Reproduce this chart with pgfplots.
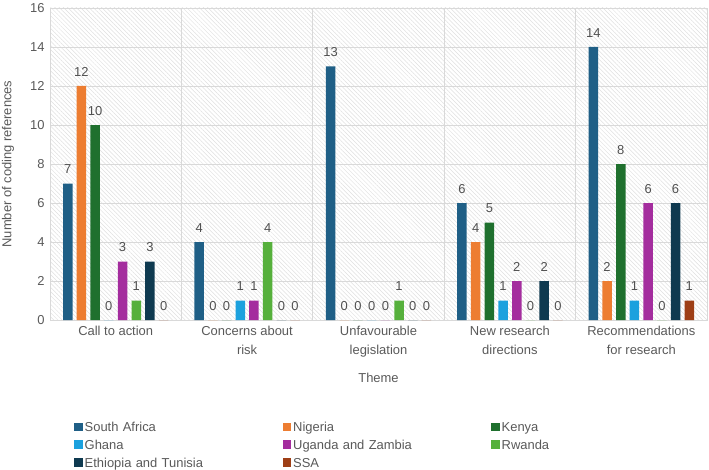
\documentclass[border=0pt]{standalone}
\usepackage{fontspec}
\setmainfont{Liberation Sans}
\usepackage{pgfplots}
\pgfplotsset{compat=1.18}
\usetikzlibrary{patterns.meta}
\definecolor{cSA}{RGB}{31,95,134}
\definecolor{cNG}{RGB}{237,125,49}
\definecolor{cKE}{RGB}{31,112,46}
\definecolor{cGH}{RGB}{28,161,222}
\definecolor{cUZ}{RGB}{164,45,158}
\definecolor{cRW}{RGB}{86,176,60}
\definecolor{cET}{RGB}{15,58,80}
\definecolor{cSS}{RGB}{158,63,22}
\definecolor{txt}{RGB}{89,89,89}
\definecolor{gridc}{RGB}{217,217,217}
\begin{document}
\begin{tikzpicture}
\useasboundingbox (-50bp,-150bp) rectangle (659bp,320bp);
\begin{axis}[
  at={(0,0)}, anchor=south west,
  scale only axis, width=657bp, height=312bp,
  ybar=4.2bp, bar width=9.5bp,
  xmin=-0.5, xmax=4.5, ymin=0, ymax=16,
  xtick={0,1,2,3,4},
  xticklabels={Call to action, Concerns about\\risk, Unfavourable\\legislation, New research\\directions, Recommendations\\for research},
  minor xtick={0.5,1.5,2.5,3.5},
  ytick={0,2,...,16},
  ymajorgrids, xminorgrids,
  grid style={gridc, line width=0.8bp},
  minor grid style={gridc, line width=0.8bp},
  axis line style={gridc, line width=0.8bp},
  major tick length=0pt, minor tick length=0pt,
  /pgf/number format/assume math mode=true,
  tick label style={font=\fontsize{13}{19}\selectfont, text=txt},
  xticklabel style={align=center, yshift=-3bp},
  yticklabel style={xshift=-2bp},
  axis background/.style={pattern={Lines[angle=-45, distance=3bp, line width=0.5bp]}, pattern color=gray!25},
  xlabel={Theme},
  every axis x label/.style={at={(axis description cs:0.5,0)}, yshift=-58bp, anchor=center, font=\fontsize{13}{15}\selectfont, text=txt},
  ylabel={Number of coding references},
  every axis y label/.style={at={(axis description cs:0,0.5)}, xshift=-42bp, rotate=90, anchor=center, font=\fontsize{13}{15}\selectfont, text=txt},
  nodes near coords,
  every node near coord/.append style={font=\fontsize{13}{15}\selectfont, text=txt!90!black, yshift=6bp},
  every axis plot/.append style={draw=none, legend image code/.code={\fill[##1] (0bp,-3.5bp) rectangle (8.5bp,5bp);}},
  legend style={at={(0,0)}, anchor=north west, xshift=24bp, yshift=-100bp, draw=none, fill=none,
    legend columns=3, font=\fontsize{13}{15}\selectfont, text=txt, inner sep=0pt, row sep=3bp,
    cells={anchor=west},
    /tikz/every even column/.append style={text width=196bp}},
]
\addplot[fill=cSA] coordinates {(0,7) (1,4) (2,13) (3,6) (4,14)};
\addplot[fill=cNG] coordinates {(0,12) (1,0) (2,0) (3,4) (4,2)};
\addplot[fill=cKE] coordinates {(0,10) (1,0) (2,0) (3,5) (4,8)};
\addplot[fill=cGH] coordinates {(0,0) (1,1) (2,0) (3,1) (4,1)};
\addplot[fill=cUZ] coordinates {(0,3) (1,1) (2,0) (3,2) (4,6)};
\addplot[fill=cRW] coordinates {(0,1) (1,4) (2,1) (3,0) (4,0)};
\addplot[fill=cET] coordinates {(0,3) (1,0) (2,0) (3,2) (4,6)};
\addplot[fill=cSS] coordinates {(0,0) (1,0) (2,0) (3,0) (4,1)};
\legend{South Africa, Nigeria, Kenya, Ghana, Uganda and Zambia, Rwanda, Ethiopia and Tunisia, SSA}
\end{axis}
\end{tikzpicture}
\end{document}
